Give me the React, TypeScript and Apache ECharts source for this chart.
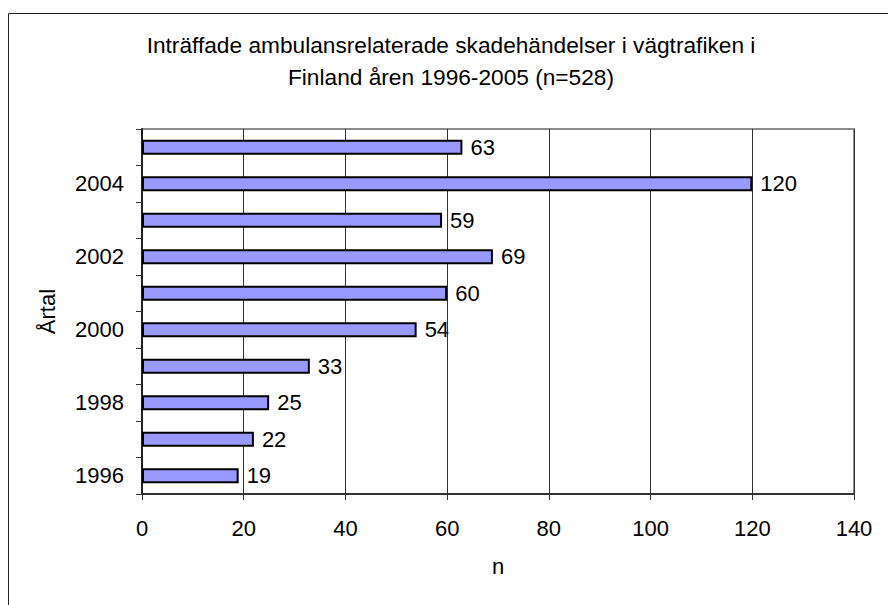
import React, { useEffect, useRef } from "react";
import * as echarts from "echarts";

const years = ["1996", "1997", "1998", "1999", "2000", "2001", "2002", "2003", "2004", "2005"];
const counts = [19, 22, 25, 33, 54, 60, 69, 59, 120, 63];
const titleText = "Inträffade ambulansrelaterade skadehändelser i vägtrafiken i\nFinland åren 1996-2005 (n=528)";
const xName = "n";
const yName = "Årtal";

export default function App() {
  const ref = useRef<HTMLDivElement>(null);
  useEffect(() => {
    if (!ref.current) return;
    const chart = echarts.init(ref.current, null, { renderer: "svg" });
    const font = "'Liberation Sans', Arial, sans-serif";
    chart.setOption({
      animation: false,
      backgroundColor: "#fff",
      textStyle: { fontFamily: font },
      title: {
        text: titleText,
        left: 446,
        textAlign: "center",
        top: 24,
        textStyle: { fontFamily: font, fontSize: 22.7, fontWeight: "normal", color: "#000", lineHeight: 32 },
      },
      graphic: [
        {
          type: "rect",
          shape: { x: 8.5, y: 13.5, width: 900, height: 700 },
          style: { fill: "none", stroke: "#222", lineWidth: 1 },
          silent: true,
        },
      ],
      grid: {
        left: 142,
        right: 34,
        top: 129,
        bottom: 111,
        show: true,
        borderColor: "#8c8c8c",
        borderWidth: 2,
        backgroundColor: "#fff",
      },
      xAxis: {
        type: "value",
        min: 0,
        max: 140,
        interval: 20,
        name: xName,
        nameLocation: "middle",
        nameGap: 61,
        nameTextStyle: { fontFamily: font, fontSize: 22, color: "#000" },
        axisLine: { show: true, lineStyle: { color: "#333", width: 2 } },
        axisTick: { show: true, length: 6, lineStyle: { color: "#333", width: 1 } },
        axisLabel: { fontFamily: font, fontSize: 22, color: "#000", margin: 23 },
        splitLine: { show: true, lineStyle: { color: "#333", width: 1 } },
      },
      yAxis: {
        type: "category",
        data: years,
        name: yName,
        nameLocation: "middle",
        nameGap: 84,
        nameRotate: 90,
        nameTextStyle: { fontFamily: font, fontSize: 22, color: "#000" },
        axisLine: { show: true, lineStyle: { color: "#222", width: 2 } },
        axisTick: { show: true, interval: 0, length: 6, alignWithLabel: false, lineStyle: { color: "#333", width: 1 } },
        axisLabel: { interval: 1, fontFamily: font, fontSize: 22, color: "#000", margin: 18 },
        splitLine: { show: false },
      },
      series: [
        {
          type: "bar",
          data: counts,
          barWidth: 15,
          itemStyle: { color: "#9999ff", borderColor: "#000", borderWidth: 2 },
          label: {
            show: true,
            position: "right",
            distance: 8,
            fontFamily: font,
            fontSize: 22,
            color: "#000",
          },
        },
      ],
    });
    return () => chart.dispose();
  }, []);
  return (
    <div
      ref={ref}
      style={{ position: "fixed", left: 0, top: 0, width: 888, height: 605 }}
    />
  );
}
